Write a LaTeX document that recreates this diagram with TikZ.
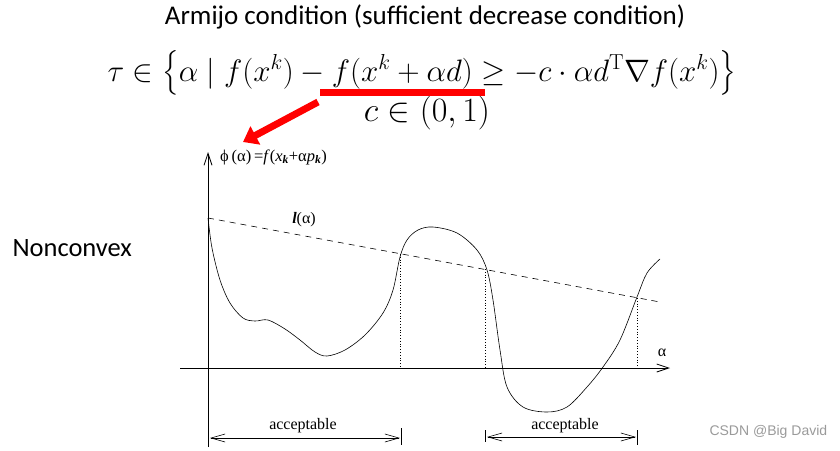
\RequirePackage{fix-cm}
\documentclass[tikz,border=0pt]{standalone}
\usepackage{amsmath}
\usepackage{fontspec}
\newfontfamily\slidefont{Carlito}
\newfontfamily\figfont{Liberation Serif}
\newfontfamily\markfont{Liberation Sans}
\usetikzlibrary{arrows.meta}
\definecolor{SlideRed}{HTML}{FF0000}
\definecolor{MarkGray}{HTML}{9A9A9A}

\begin{document}
\begin{tikzpicture}[x=1pt,y=-1pt,
    axisline/.style={line width=0.8pt,-{Straight Barb[length=12pt,width=8pt]}},
    spanarrow/.style={line width=0.6pt,{Straight Barb[length=14pt,width=8pt]}-{Straight Barb[length=14pt,width=8pt]}},
    figlabel/.style={font=\figfont\fontsize{16}{18}\selectfont,inner sep=0pt}]
    \useasboundingbox (0,0) rectangle (840,450);
    % slide text
    \node[font=\slidefont\fontsize{27}{32}\selectfont,inner sep=0pt] (title) at (425,17)
      {Armijo condition (sufficient decrease condition)};
    \node[font=\fontsize{31}{36}\selectfont,inner sep=0pt,anchor=base] (armijo) at (422,81)
      {\smash[t]{$\tau\in\bigl\{\alpha\mid f(x^k)-f(x^k+\alpha d)\geq -c\cdot\alpha d^{\mathrm{T}}\nabla f(x^k)\bigr\}$}};
    \node[font=\fontsize{34}{38}\selectfont,inner sep=0pt] (crange) at (427,113) {$c\in(0,1)$};
    \node[font=\slidefont\fontsize{26.5}{32}\selectfont,anchor=west] (nonconvex) at (9,248) {Nonconvex};
    \fill[SlideRed] (320,89) rectangle (485,96);
    \coordinate (redstart) at (318,102);
    \coordinate (redtip) at (243,142);
    \draw[SlideRed,line width=7pt,-{Triangle[length=14pt,width=20pt]}] (redstart) -- (redtip);
    % axes
    \coordinate (origin) at (208,368);
    \coordinate (ytop) at (208,152);
    \coordinate (ybot) at (208,447);
    \coordinate (xleft) at (180,368);
    \coordinate (xright) at (670,368);
    \draw[axisline] (ybot) -- (ytop);
    \draw[axisline] (xleft) -- (xright);
    \node[figlabel,anchor=west] (philabel) at (220,157)
      {\fontsize{16.5}{18}\selectfont ϕ\,(α)\,=\textit{f}(\textit{x}\textsubscript{\textbf{\textit{k}}}+α\textit{p}\textsubscript{\textbf{\textit{k}}})};
    \node[figlabel] (alabel) at (662,353) {α};
    % sufficient decrease line
    \coordinate (lstart) at (208,218);
    \coordinate (lend) at (660,302);
    \draw[dash pattern=on 6pt off 5pt,line width=0.6pt] (lstart) -- (lend);
    \node[figlabel] (llabel) at (304,220) {\textbf{\textit{l}}(α)};
    % phi curve
    \draw[line width=0.6pt] plot[smooth,tension=0.55] coordinates {
      (208,218) (212,248) (220,280) (230,303) (243,318) (255,321) (268,320)
      (285,329) (300,340) (315,352) (327,356) (345,350) (365,335) (383,313)
      (393,290) (400,257) (407,240) (418,230) (433,227) (457,233) (477,250)
      (487,270) (493,300) (500,350) (507,387) (523,407) (547,412) (567,407)
      (587,387) (603,367) (620,340) (637,297) (647,273) (660,259)};
    \foreach \x/\y in {400/254,485/269,637/298}{
      \draw[dotted,line width=0.8pt] (\x,\y) -- (\x,368);}
    % acceptable intervals
    \foreach \x/\ya/\yb in {401/428/445,485/430/442,637/430/445}{
      \draw[line width=0.6pt] (\x,\ya) -- (\x,\yb);}
    \coordinate (acc1a) at (210,438);
    \coordinate (acc1b) at (400,438);
    \coordinate (acc2a) at (487,437);
    \coordinate (acc2b) at (636,437);
    \draw[spanarrow] (acc1a) -- (acc1b);
    \draw[spanarrow] (acc2a) -- (acc2b);
    \node[figlabel] (acc1) at (303,426) {acceptable};
    \node[figlabel] (acc2) at (565,426) {acceptable};
    \node[font=\markfont\fontsize{14}{16}\selectfont,text=MarkGray,anchor=west] (mark) at (706,432)
      {CSDN @Big David};
  \end{tikzpicture}
\end{document}
